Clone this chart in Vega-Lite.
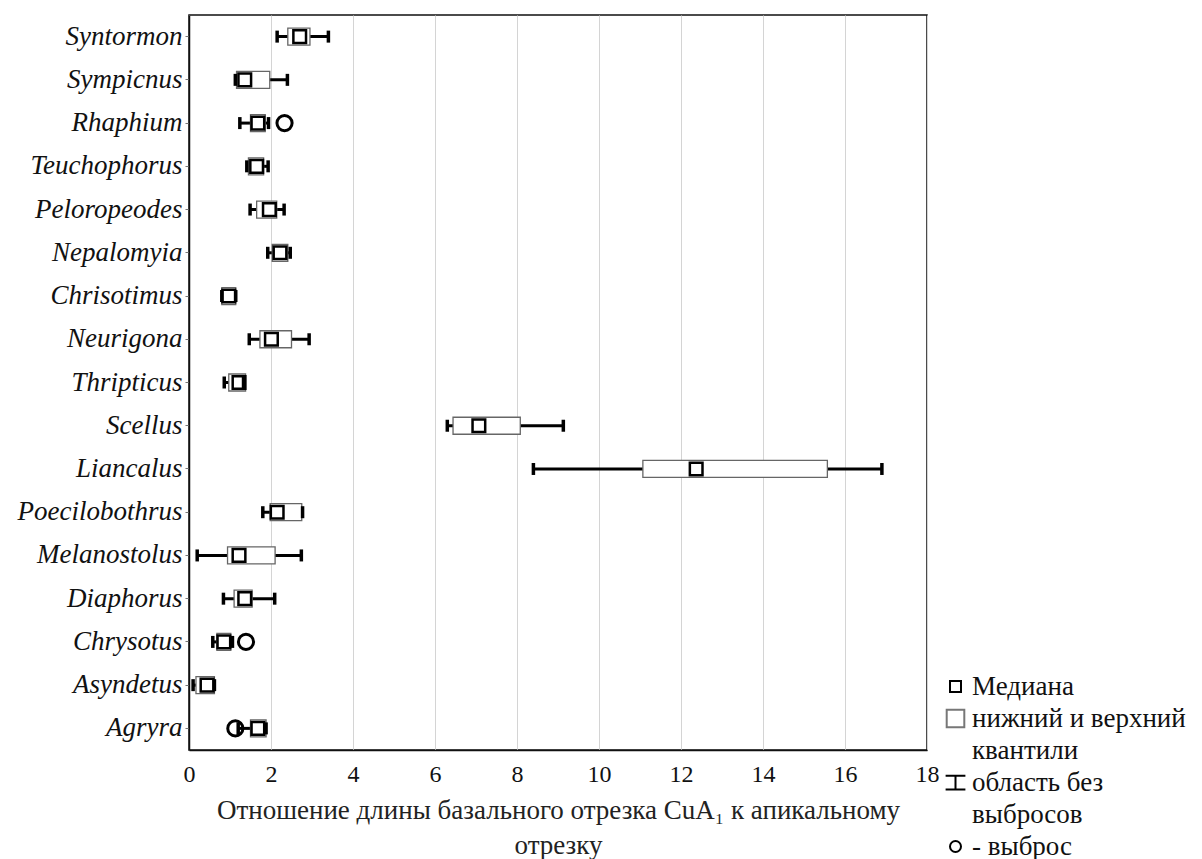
{
  "$schema": "https://vega.github.io/schema/vega-lite/v6.json",
  "width": 738,
  "height": 735,
  "autosize": {"type": "none"},
  "padding": {"left": 189, "top": 15, "right": 275, "bottom": 109},
  "background": "white",
  "config": {
    "view": {"stroke": "#111", "strokeWidth": 1.5},
    "font": "Liberation Serif",
    "legend": {"labelFont": "Liberation Serif", "labelFontSize": 27, "labelColor": "#111", "padding": 0, "labelLimit": 400}
  },
  "datasets": {
    "boxes": [
      {"genus": "Syntormon", "lo": 2.15, "q1": 2.41, "med": 2.70, "q3": 2.95, "hi": 3.40},
      {"genus": "Sympicnus", "lo": 1.13, "q1": 1.16, "med": 1.36, "q3": 1.97, "hi": 2.40},
      {"genus": "Rhaphium", "lo": 1.24, "q1": 1.50, "med": 1.68, "q3": 1.86, "hi": 1.94},
      {"genus": "Teuchophorus", "lo": 1.41, "q1": 1.45, "med": 1.65, "q3": 1.82, "hi": 1.93},
      {"genus": "Peloropeodes", "lo": 1.49, "q1": 1.65, "med": 1.96, "q3": 2.14, "hi": 2.32},
      {"genus": "Nepalomyia", "lo": 1.92, "q1": 2.03, "med": 2.22, "q3": 2.41, "hi": 2.47},
      {"genus": "Chrisotimus", "lo": 0.80, "q1": 0.80, "med": 0.97, "q3": 1.14, "hi": 1.14},
      {"genus": "Neurigona", "lo": 1.47, "q1": 1.73, "med": 2.01, "q3": 2.50, "hi": 2.93},
      {"genus": "Thripticus", "lo": 0.86, "q1": 0.97, "med": 1.22, "q3": 1.38, "hi": 1.33},
      {"genus": "Scellus", "lo": 6.30, "q1": 6.44, "med": 7.07, "q3": 8.08, "hi": 9.13},
      {"genus": "Liancalus", "lo": 8.40, "q1": 11.07, "med": 12.37, "q3": 15.57, "hi": 16.90},
      {"genus": "Poecilobothrus", "lo": 1.80, "q1": 1.98, "med": 2.15, "q3": 2.75, "hi": 2.77},
      {"genus": "Melanostolus", "lo": 0.20, "q1": 0.94, "med": 1.22, "q3": 2.10, "hi": 2.74},
      {"genus": "Diaphorus", "lo": 0.84, "q1": 1.10, "med": 1.36, "q3": 1.54, "hi": 2.09},
      {"genus": "Chrysotus", "lo": 0.58, "q1": 0.68, "med": 0.85, "q3": 1.02, "hi": 1.06},
      {"genus": "Asyndetus", "lo": 0.10, "q1": 0.17, "med": 0.44, "q3": 0.62, "hi": 0.62},
      {"genus": "Agryra", "lo": 1.20, "q1": 1.50, "med": 1.68, "q3": 1.88, "hi": 1.88}
    ],
    "outliers": [
      {"genus": "Rhaphium", "value": 2.33},
      {"genus": "Chrysotus", "value": 1.39},
      {"genus": "Agryra", "value": 1.13}
    ]
  },
  "encoding": {
    "y": {
      "field": "genus",
      "type": "nominal",
      "sort": ["Syntormon", "Sympicnus", "Rhaphium", "Teuchophorus", "Peloropeodes", "Nepalomyia", "Chrisotimus", "Neurigona", "Thripticus", "Scellus", "Liancalus", "Poecilobothrus", "Melanostolus", "Diaphorus", "Chrysotus", "Asyndetus", "Agryra"],
      "scale": {"paddingInner": 0, "paddingOuter": 0},
      "axis": {
        "title": null,
        "labelFont": "Liberation Serif",
        "labelFontStyle": "italic",
        "labelFontSize": 27,
        "labelColor": "#111",
        "labelPadding": 3,
        "labelLimit": 300,
        "tickColor": "#777",
        "tickSize": 4,
        "domainColor": "#111",
        "domainWidth": 1.5,
        "grid": false
      }
    }
  },
  "layer": [
    {
      "data": {"name": "boxes"},
      "mark": {"type": "rule", "color": "#000", "strokeWidth": 3},
      "encoding": {
        "x": {
          "field": "lo",
          "type": "quantitative",
          "scale": {"domain": [0, 18], "nice": false},
          "axis": {
            "values": [0, 2, 4, 6, 8, 10, 12, 14, 16, 18],
            "grid": true,
            "gridColor": "#d4d4d4",
            "gridWidth": 1,
            "ticks": false,
            "labelFont": "Liberation Serif",
            "labelFontSize": 24,
            "labelColor": "#111",
            "labelPadding": 12,
            "labelFlush": false,
            "domainColor": "#111",
            "domainWidth": 1.5,
            "title": ["Отношение длины базального отрезка CuA₁ к апикальному", "отрезку"],
            "titleFont": "Liberation Serif",
            "titleFontSize": 27,
            "titleFontWeight": "normal",
            "titleColor": "#222",
            "titleLineHeight": 35,
            "titlePadding": 11
          }
        },
        "x2": {"field": "hi"}
      }
    },
    {
      "data": {"name": "boxes"},
      "mark": {"type": "bar", "fill": "white", "stroke": "#666", "strokeWidth": 1.3, "height": 17},
      "encoding": {
        "x": {"field": "q1", "type": "quantitative"},
        "x2": {"field": "q3"}
      }
    },
    {
      "data": {"name": "boxes"},
      "mark": {"type": "tick", "orient": "vertical", "color": "#000", "thickness": 3.5, "size": 12, "opacity": 1},
      "encoding": {"x": {"field": "lo", "type": "quantitative"}}
    },
    {
      "data": {"name": "boxes"},
      "mark": {"type": "tick", "orient": "vertical", "color": "#000", "thickness": 3.5, "size": 12, "opacity": 1},
      "encoding": {"x": {"field": "hi", "type": "quantitative"}}
    },
    {
      "data": {"name": "boxes"},
      "mark": {"type": "point", "filled": false, "strokeWidth": 2.5, "opacity": 1, "size": 160},
      "encoding": {
        "x": {"field": "med", "type": "quantitative"},
        "shape": {
          "datum": "Медиана",
          "scale": {
            "domain": ["Медиана", "нижний и верхний", "квантили", "область без", "выбросов", "- выброс"],
            "range": ["square", "M-1.6,-1.6H1.6V1.6H-1.6Z", "M0,0", "M-1.8,-1.25H1.8M0,-1.25V1.25M-1.8,1.25H1.8", "M0,0", "circle"]
          },
          "legend": {
            "title": null,
            "orient": "none",
            "legendX": 753,
            "legendY": 658,
            "rowPadding": 4,
            "symbolSize": 121,
            "symbolStrokeWidth": 2,
            "labelOffset": 3
          }
        },
        "stroke": {
          "datum": "Медиана",
          "scale": {
            "domain": ["Медиана", "нижний и верхний", "квантили", "область без", "выбросов", "- выброс"],
            "range": ["#000", "#777", "#000", "#000", "#000", "#000"]
          },
          "legend": {
            "title": null,
            "orient": "none",
            "legendX": 753,
            "legendY": 658,
            "rowPadding": 4,
            "symbolSize": 121,
            "symbolStrokeWidth": 2,
            "labelOffset": 3
          }
        }
      }
    },
    {
      "data": {"name": "outliers"},
      "mark": {"type": "point", "filled": false, "strokeWidth": 3, "opacity": 1, "size": 230},
      "encoding": {
        "x": {"field": "value", "type": "quantitative"},
        "shape": {"datum": "- выброс"},
        "stroke": {"datum": "- выброс"}
      }
    }
  ]
}
